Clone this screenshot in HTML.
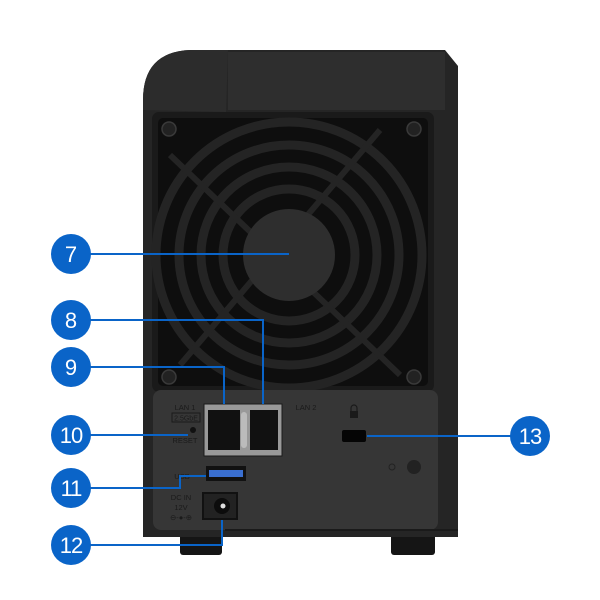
<!DOCTYPE html>
<html><head><meta charset="utf-8"><style>
html,body{margin:0;padding:0;background:#fff;width:600px;height:600px;overflow:hidden}
svg{display:block}
text{font-family:"Liberation Sans",sans-serif}
</style></head><body>
<svg width="600" height="600" viewBox="0 0 600 600" xmlns="http://www.w3.org/2000/svg">
<rect x="180" y="530" width="42" height="25" rx="3" fill="#151515"/>
<rect x="391" y="530" width="44" height="25" rx="3" fill="#151515"/>
<path d="M143 537 L143 100 Q143 52 190 50 L445 50 L458 66 L458 537 Z" fill="#252525"/>
<path d="M143 110 L143 100 Q143 52 190 50 L228 50 L226 112 Z" fill="#2c2c2c"/>
<rect x="228" y="52" width="217" height="58" fill="#2e2e2e"/>
<rect x="152" y="112" width="282" height="280" rx="7" fill="#1a1a1a"/>
<rect x="158" y="118" width="270" height="268" rx="5" fill="#0e0e0e"/>
<g fill="none" stroke="#242424" stroke-width="9">
<circle cx="289" cy="255" r="133"/>
<circle cx="289" cy="255" r="110"/>
<circle cx="289" cy="255" r="88"/>
<circle cx="289" cy="255" r="66"/>
</g>
<g stroke="#242424" stroke-width="6">
<line x1="170" y1="155" x2="400" y2="375"/>
<line x1="380" y1="130" x2="180" y2="365"/>
</g>
<circle cx="289" cy="255" r="46" fill="#2e2e2e"/>
<g fill="#222" stroke="#3a3a3a" stroke-width="1.5">
<circle cx="169" cy="129" r="7"/><circle cx="414" cy="129" r="7"/>
<circle cx="169" cy="377" r="7"/><circle cx="414" cy="377" r="7"/>
</g>
<rect x="153" y="390" width="285" height="140" rx="8" fill="#363636"/>
<line x1="225" y1="530" x2="458" y2="530" stroke="#1a1a1a" stroke-width="2"/>
<g fill="#1a1a1a" font-size="7.5" text-anchor="middle">
<text x="185" y="410">LAN 1</text>
<text x="306" y="410">LAN 2</text>
<text x="185" y="443">RESET</text>
<text x="182" y="479">USB</text>
<text x="181" y="500">DC IN</text>
<text x="181" y="510">12V</text>
<text x="181" y="520">⊖-●-⊕</text>
</g>
<rect x="172" y="413" width="28" height="9" fill="none" stroke="#1a1a1a" stroke-width="1"/>
<text x="186" y="420.5" font-size="7" fill="#1a1a1a" text-anchor="middle">2.5GbE</text>
<circle cx="193" cy="430" r="3" fill="#111"/>
<rect x="204" y="404" width="78" height="52" fill="#999" stroke="#1a1a1a" stroke-width="1"/>
<rect x="208" y="410" width="32" height="40" fill="#111"/>
<rect x="250" y="410" width="28" height="40" fill="#111"/>
<rect x="241" y="412" width="6" height="36" rx="3" fill="#bbb"/>
<rect x="206" y="466" width="40" height="15" fill="#111"/>
<rect x="209" y="470" width="34" height="7" fill="#3a6fd0"/>
<rect x="203" y="493" width="34" height="26" fill="#222" stroke="#111" stroke-width="2"/>
<circle cx="222" cy="506" r="8" fill="#0c0c0c"/>
<circle cx="223" cy="506" r="2.5" fill="#ddd"/>
<rect x="342" y="430" width="24" height="12" rx="2" fill="#050505"/>
<path d="M351 411 v-3 a3 3 0 0 1 6 0 v3" fill="none" stroke="#1a1a1a" stroke-width="1.2"/>
<rect x="350" y="411" width="8" height="7" fill="#1a1a1a"/>
<circle cx="392" cy="467" r="3" fill="none" stroke="#222" stroke-width="1"/>
<circle cx="414" cy="467" r="7" fill="#222"/>
<g stroke="#0a64c8" stroke-width="2" fill="none">
<path d="M90 254 H289"/>
<path d="M90 320 H263 V404"/>
<path d="M90 367 H224 V404"/>
<path d="M90 435 H188"/>
<path d="M90 488 H180 V476 H206"/>
<path d="M90 545 H222 V520"/>
<path d="M367 436 H512"/>
</g>
<g fill="#0a64c8">
<circle cx="71" cy="254" r="20"/><circle cx="71" cy="320" r="20"/>
<circle cx="71" cy="367" r="20"/><circle cx="71" cy="435" r="20"/>
<circle cx="71" cy="488" r="20"/><circle cx="71" cy="545" r="20"/>
<circle cx="530" cy="436" r="20"/>
</g>
<g fill="#fff" font-size="22" text-anchor="middle">
<text x="71" y="262">7</text><text x="71" y="328">8</text>
<text x="71" y="375">9</text><text x="71" y="443" letter-spacing="-1">10</text>
<text x="71" y="496" letter-spacing="-1">11</text><text x="71" y="553" letter-spacing="-1">12</text>
<text x="530" y="444" letter-spacing="-1">13</text>
</g>
</svg>
</body></html>
